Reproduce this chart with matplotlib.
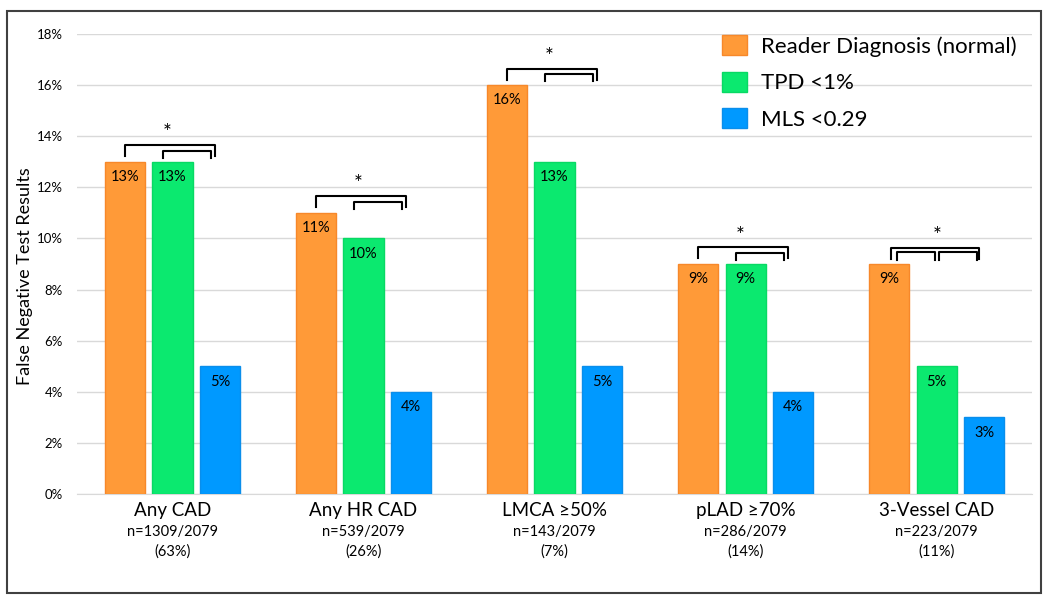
import numpy as np
import matplotlib
matplotlib.use("Agg")
from matplotlib import pyplot as plt
from matplotlib.patches import Rectangle

plt.rcParams['font.family'] = ['Lato', 'DejaVu Sans']

categories = ["Any CAD", "Any HR CAD", "LMCA \u226550%", "pLAD \u226570%", "3-Vessel CAD"]
counts = ["n=1309/2079", "n=539/2079", "n=143/2079", "n=286/2079", "n=223/2079"]
shares = ["(63%)", "(26%)", "(7%)", "(14%)", "(11%)"]
reader = [13, 11, 16, 9, 9]
tpd = [13, 10, 13, 9, 5]
mls = [5, 4, 5, 4, 3]
series_names = ["Reader Diagnosis (normal)", "TPD <1%", "MLS <0.29"]
colors = ["#FF9A38", "#0BE96F", "#0099FF"]
edges = ["#F7882A", "#08D964", "#0A8EEB"]

fig = plt.figure(figsize=(10.5, 6.02), dpi=100)
ax = fig.add_axes([0.0733, 0.1794, 0.9097, 0.7641])

x = np.arange(len(categories))
w = 0.21
step = 0.25
all_series = [reader, tpd, mls]
for k, vals in enumerate(all_series):
    xs = x + (k - 1) * step
    ax.bar(xs, vals, width=w, color=colors[k], edgecolor=edges[k], linewidth=1,
           label=series_names[k], zorder=3)
    for xi, v in zip(xs, vals):
        ax.annotate(f"{v}%", (xi, v), xytext=(0, -6), textcoords="offset points",
                    ha="center", va="top", fontsize=10.5, zorder=4)

ax.set_xlim(-0.5, len(categories) - 0.5)
ax.set_ylim(0, 18)
ax.set_yticks(np.arange(0, 19, 2))
ax.set_yticklabels([f"{t}%" for t in range(0, 19, 2)], fontsize=9.5)
ax.yaxis.grid(True, color="#D9D9D9", linewidth=1, zorder=0)
ax.tick_params(axis="both", length=0)
ax.tick_params(axis="y", pad=10)
for s in ["top", "right", "left"]:
    ax.spines[s].set_visible(False)
ax.spines["bottom"].set_color("#D9D9D9")
ax.set_xticks(x)
ax.set_xticklabels([])
for xi, c, n, sh in zip(x, categories, counts, shares):
    ax.text(xi, -0.33, c, ha="center", va="top", fontsize=13.5,
            transform=ax.transData)
    ax.text(xi, -1.2, n + "\n" + sh, ha="center", va="top", fontsize=10.5,
            linespacing=1.5, transform=ax.transData)
ax.set_ylabel("False Negative Test Results", fontsize=13)
ax.yaxis.set_label_coords(-0.046, 0.474)


def bracket(x0, x1, top, drop):
    ax.plot([x0, x0, x1, x1], [top - drop, top, top, top - drop], color="black",
            linewidth=1.5, zorder=5, solid_joinstyle="round")


for i in range(len(categories)):
    h = max(reader[i], tpd[i], mls[i])
    xo = x[i] - step
    xg = x[i]
    xb = x[i] + step
    if i == 4:
        bracket(xo + 0.01, xb - 0.03, h + 0.63, 0.45)
        bracket(xo + 0.04, xg - 0.01, h + 0.47, 0.3)
        bracket(xg + 0.01, xb - 0.04, h + 0.47, 0.3)
        ax.text(xg, h + 0.7, "*", ha="center", va="bottom", fontsize=15)
    else:
        bracket(xo, xb - 0.03, h + 0.65, 0.43)
        bracket(xg - 0.05, xb - 0.05, h + 0.43, 0.28)
        ax.text(xg - 0.03, h + 0.72, "*", ha="center", va="bottom", fontsize=15)

ax.legend(loc="upper left", bbox_to_anchor=(0.669, 0.975), bbox_transform=fig.transFigure,
          frameon=False, fontsize=16, handlelength=1.1, handleheight=1.0,
          handletextpad=0.65, labelspacing=0.68)

fig.patches.append(Rectangle((7 / 1050, 1 - 593 / 602), (1041 - 7) / 1050, (593 - 11) / 602,
                             transform=fig.transFigure, fill=False, edgecolor="#404040",
                             linewidth=1.5))

fig.savefig("out.png", dpi=100)
